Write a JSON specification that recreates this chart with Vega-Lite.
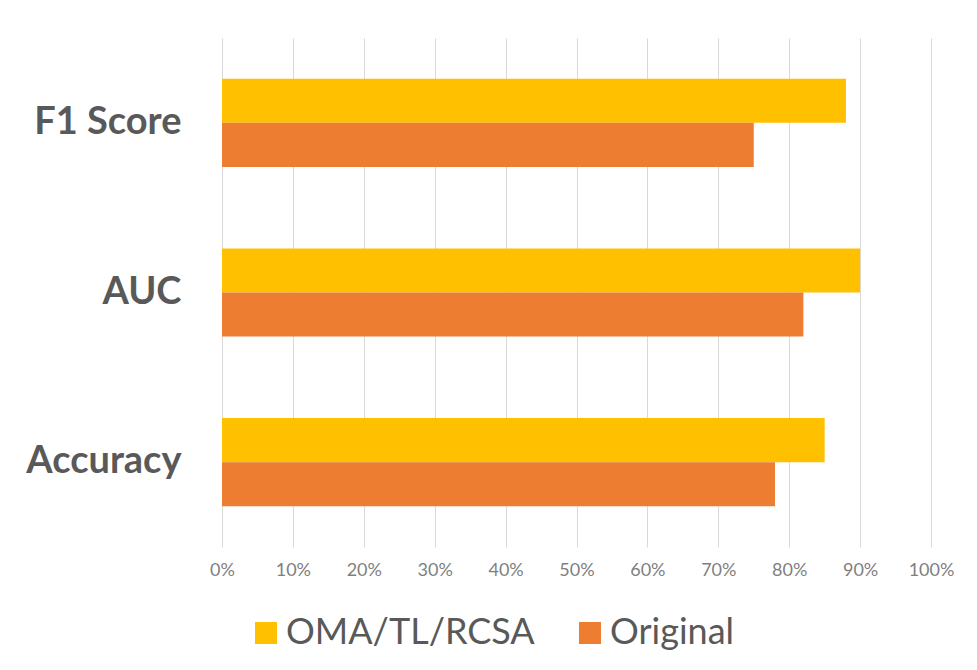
{
  "$schema": "https://vega.github.io/schema/vega-lite/v6.json",
  "autosize": "none",
  "width": 709,
  "height": 509,
  "padding": {"left": 222, "top": 38, "right": 46, "bottom": 123},
  "background": "white",
  "data": {
    "values": [
      {"metric": "F1 Score", "series": "OMA/TL/RCSA", "value": 0.88},
      {"metric": "F1 Score", "series": "Original", "value": 0.75},
      {"metric": "AUC", "series": "OMA/TL/RCSA", "value": 0.90},
      {"metric": "AUC", "series": "Original", "value": 0.82},
      {"metric": "Accuracy", "series": "OMA/TL/RCSA", "value": 0.85},
      {"metric": "Accuracy", "series": "Original", "value": 0.78}
    ]
  },
  "mark": {"type": "bar"},
  "encoding": {
    "y": {
      "field": "metric",
      "type": "nominal",
      "sort": ["F1 Score", "AUC", "Accuracy"],
      "scale": {"paddingInner": 0.48, "paddingOuter": 0.24},
      "axis": {
        "title": null,
        "domain": false,
        "ticks": false,
        "grid": false,
        "labelFont": "Lato",
        "labelFontWeight": "bold",
        "labelFontSize": 38,
        "labelColor": "#595959",
        "labelPadding": 41,
        "labelLimit": 300
      }
    },
    "yOffset": {
      "field": "series",
      "type": "nominal",
      "sort": ["OMA/TL/RCSA", "Original"],
      "scale": {"paddingInner": 0, "paddingOuter": 0}
    },
    "x": {
      "field": "value",
      "type": "quantitative",
      "scale": {"domain": [0, 1], "nice": false},
      "axis": {
        "title": null,
        "format": ".0%",
        "values": [0, 0.1, 0.2, 0.3, 0.4, 0.5, 0.6, 0.7, 0.8, 0.9, 1],
        "domain": false,
        "ticks": false,
        "grid": true,
        "gridColor": "#d9d9d9",
        "gridWidth": 1,
        "labelFont": "Lato",
        "labelFontSize": 18,
        "labelColor": "#7f7f7f",
        "labelPadding": 14,
        "labelFlush": false
      }
    },
    "color": {
      "field": "series",
      "type": "nominal",
      "scale": {"domain": ["OMA/TL/RCSA", "Original"], "range": ["#FFC000", "#ED7D31"]},
      "legend": {
        "title": null,
        "orient": "none",
        "direction": "horizontal",
        "legendX": 26,
        "legendY": 577,
        "padding": 0,
        "symbolType": "square",
        "symbolSize": 484,
        "symbolStrokeWidth": 0,
        "symbolOpacity": 1,
        "labelFont": "Lato",
        "labelFontSize": 36,
        "labelColor": "#595959",
        "labelOffset": 2,
        "labelLimit": 400,
        "columnPadding": 37
      }
    }
  },
  "config": {
    "view": {"stroke": null}
  }
}
